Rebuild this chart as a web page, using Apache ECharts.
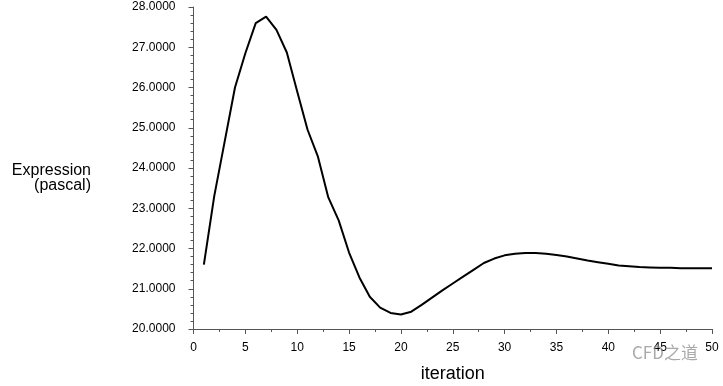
<!DOCTYPE html>
<html><head><meta charset="utf-8">
<script src="https://cdn.jsdelivr.net/npm/echarts@6/dist/echarts.min.js"></script>
<style>html,body{margin:0;padding:0;background:#fff}#c{width:723px;height:386px}</style>
</head><body><div id="c"></div>
<script>
const iterations = [1,2,3,4,5,6,7,8,9,10,11,12,13,14,15,16,17,18,19,20,21,22,23,24,25,26,27,28,29,30,31,32,33,34,35,36,37,38,39,40,41,42,43,44,45,46,47,48,49,50];
const expression = [21.6,23.3,24.65,26.0,26.85,27.6,27.76,27.43,26.87,25.9,24.95,24.28,23.27,22.7,21.9,21.28,20.8,20.53,20.4,20.36,20.43,20.6,20.78,20.96,21.13,21.3,21.47,21.64,21.75,21.83,21.87,21.89,21.89,21.87,21.84,21.8,21.75,21.7,21.66,21.62,21.58,21.56,21.54,21.53,21.52,21.52,21.51,21.51,21.51,21.51];
const xName = 'iteration';
const yName = 'Expression\n(pascal)';
const watermark = 'CFD之道';

const chart = echarts.init(document.getElementById('c'));
const axisColor = '#555';
const font = 'Liberation Sans, Arial, sans-serif';
chart.setOption({
  animation: false,
  backgroundColor: '#fff',
  grid: {left: 193.5, right: 11, top: 7, bottom: 57, containLabel: false, outerBoundsMode: 'none'},
  xAxis: {
    type: 'value', min: 0, max: 50, interval: 5,
    name: xName, nameLocation: 'middle', nameGap: 36,
    nameTextStyle: {color: '#000', fontSize: 18, fontFamily: font},
    axisLine: {show: true, lineStyle: {color: axisColor, width: 1}},
    axisTick: {show: true, length: 5, lineStyle: {color: axisColor}},
    minorTick: {show: true, splitNumber: 2, length: 3, lineStyle: {color: axisColor}},
    splitLine: {show: false},
    axisLabel: {color: '#000', fontSize: 12, fontFamily: font, margin: 13}
  },
  yAxis: {
    type: 'value', min: 20, max: 28, interval: 1,
    axisLine: {show: true, lineStyle: {color: axisColor, width: 1}},
    axisTick: {show: true, length: 5, lineStyle: {color: axisColor}},
    minorTick: {show: true, splitNumber: 5, length: 3, lineStyle: {color: axisColor}},
    splitLine: {show: false},
    axisLabel: {color: '#000', fontSize: 12, fontFamily: font, margin: 18, formatter: v => v.toFixed(4)}
  },
  graphic: [{
    type: 'text', x: 91, y: 178, z: 100,
    style: {text: yName, align: 'right', verticalAlign: 'middle', fill: '#000', fontSize: 16, lineHeight: 15, fontFamily: font}
  }, {
    type: 'text', left: 632, top: 344, z: 100,
    style: {text: watermark, fill: 'rgba(140,140,140,0.75)', fontSize: 17, fontFamily: 'Noto Sans CJK SC, sans-serif'}
  }],
  series: [{
    type: 'line',
    data: iterations.map((x, i) => [x, expression[i]]),
    showSymbol: false, symbol: 'none',
    lineStyle: {color: '#000', width: 2},
    z: 3
  }]
});
</script></body></html>
